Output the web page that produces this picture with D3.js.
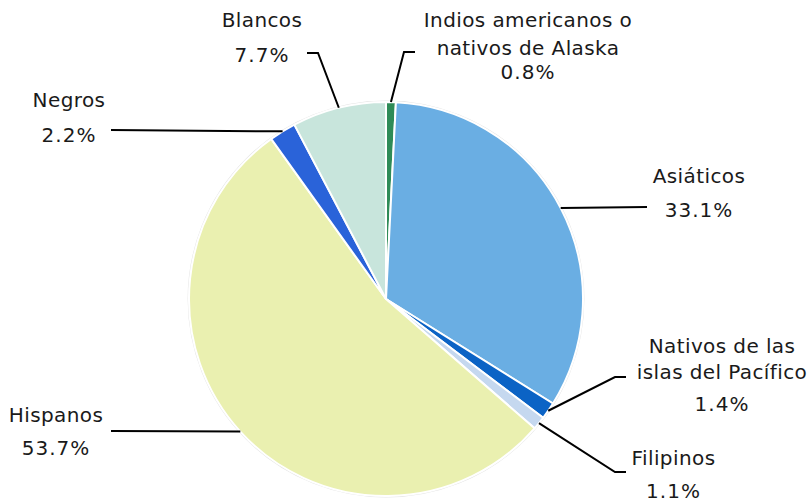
<!DOCTYPE html>
<html><head><meta charset="utf-8">
<script src="https://cdn.jsdelivr.net/npm/d3@7"></script>
<style>body{margin:0;background:#fff}svg{display:block}text{font-family:"DejaVu Sans",Verdana,sans-serif;font-size:20px;fill:#1a1a1a}
text.n{letter-spacing:0.4px}text.v{letter-spacing:1px}</style>
</head><body><svg id="c" width="812" height="504"></svg>
<script>
const categories = ["Indios americanos o nativos de Alaska","Asiáticos","Nativos de las islas del Pacífico","Filipinos","Hispanos","Negros","Blancos"];
const values = [0.8, 33.1, 1.4, 1.1, 53.7, 2.2, 7.7];
const labelLines = [["Indios americanos o","nativos de Alaska"],["Asiáticos"],["Nativos de las","islas del Pacífico"],["Filipinos"],["Hispanos"],["Negros"],["Blancos"]];
const valueLabels = ["0.8%","33.1%","1.4%","1.1%","53.7%","2.2%","7.7%"];
const colors = ["#2e8b57","#6aaee3","#0b63c5","#c5d8ef","#eaf0b0","#2a63d9","#c8e5dc"];

// layout: label anchor (center x, first baseline y, line gap, value baseline) and leader elbow/end
const layout = [
  {x:528, y:27, gap:28, vy:79, elbow:[404,52], end:[415,52]},
  {x:699, y:183, gap:27, vy:217, elbow:null, end:[647,207]},
  {x:722, y:353, gap:25.5, vy:411, elbow:[615,377], end:[626,377]},
  {x:673.5, y:465, gap:27, vy:498, elbow:[615,472], end:[626,472]},
  {x:56, y:422, gap:27, vy:455, elbow:null, end:[111,431]},
  {x:69, y:106.5, gap:27, vy:141.5, elbow:null, end:[111,130]},
  {x:262, y:27, gap:27, vy:61.5, elbow:[318,53], end:[307,53]}
];

const svg = d3.select("#c");
const cx = 386, cy = 299, r = 197;
const g = svg.append("g").attr("transform", `translate(${cx},${cy})`);
const pie = d3.pie().sort(null).value(d => d)(values);
const arc = d3.arc().innerRadius(0).outerRadius(r);

g.append("circle").attr("r", r + 0.8).attr("fill", "none").attr("stroke", "#e4e4e4").attr("stroke-width", 1.2);
g.selectAll("path.s").data(pie).join("path").attr("class","s")
  .attr("d", arc).attr("fill", (d,i) => colors[i])
  .attr("stroke", "#fff").attr("stroke-width", 2).attr("stroke-linejoin","round");

pie.forEach((d, i) => {
  const a = (d.startAngle + d.endAngle) / 2;
  const px = cx + r * Math.sin(a), py = cy - r * Math.cos(a);
  const L = layout[i];
  const pts = [[px, py]];
  if (L.elbow) pts.push(L.elbow);
  pts.push(L.end);
  svg.append("path").attr("d", d3.line()(pts)).attr("fill","none").attr("stroke","#000").attr("stroke-width",2);
  const t = svg.append("g");
  labelLines[i].forEach((s, k) => {
    t.append("text").attr("class","n").attr("x", L.x).attr("y", L.y + k * L.gap).attr("text-anchor","middle").text(s);
  });
  t.append("text").attr("class","v").attr("x", L.x).attr("y", L.vy).attr("text-anchor","middle").text(valueLabels[i]);
});
</script></body></html>
